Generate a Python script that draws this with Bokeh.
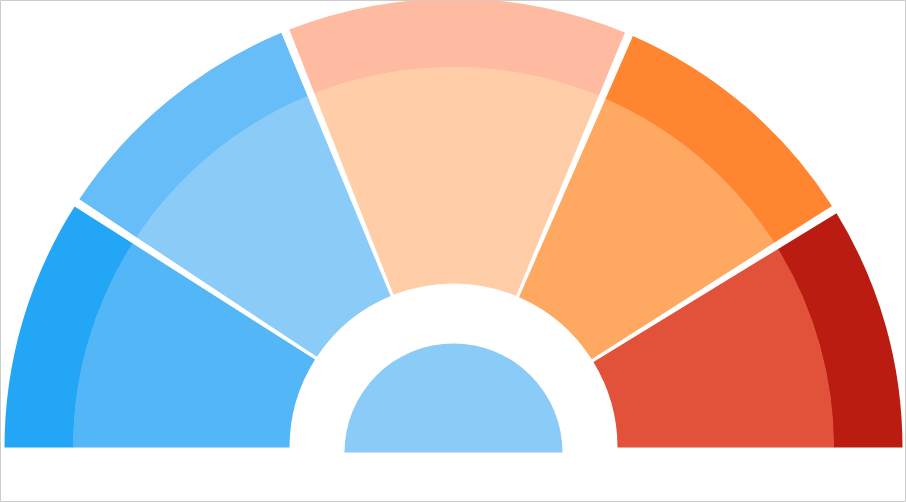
import math
from bokeh.plotting import figure
from bokeh.models import Range1d, ColumnDataSource
from bokeh.embed import file_html
from bokeh.resources import INLINE

# Data (left to right around the gauge)
categories = ["A", "B", "C", "D", "E"]
values = [33, 35, 45, 35, 32]
outer_colors = ["#22A6F5", "#66BDF7", "#FFBBA1", "#FF8531", "#BA1C12"]
inner_colors = ["#53B6F7", "#8ACBF8", "#FFCEA9", "#FFA861", "#E25139"]
center_color = "#8ACBF8"

W, H = 906, 502
p = figure(width=W, height=H, output_backend="svg", toolbar_location=None,
           x_range=Range1d(-453, 453), y_range=Range1d(-55, 447),
           min_border=0, background_fill_color="white", border_fill_color="white")
p.axis.visible = False
p.grid.visible = False
p.outline_line_color = "#cccccc"
p.outline_line_width = 1

R_OUT, R_MID, R_IN, R_DISC = 449, 380, 164, 109
pad = math.radians(0.55)

total = sum(values)
# sectors drawn clockwise from the left (angle pi) to the right (angle 0)
starts, ends = [], []
acc = 0.0
n = len(values)
for i, v in enumerate(values):
    a_hi = math.pi - acc / total * math.pi
    acc += v
    a_lo = math.pi - acc / total * math.pi
    if i > 0:
        a_hi -= pad
    if i < n - 1:
        a_lo += pad
    starts.append(a_lo)
    ends.append(a_hi)

src = ColumnDataSource(dict(cat=categories, start=starts, end=ends,
                            outer=outer_colors, inner=inner_colors))

p.annular_wedge(x=0, y=0, inner_radius=R_MID, outer_radius=R_OUT,
                start_angle="start", end_angle="end", fill_color="outer",
                line_color=None, source=src)
p.annular_wedge(x=0, y=0, inner_radius=R_IN, outer_radius=R_MID + 0.5,
                start_angle="start", end_angle="end", fill_color="inner",
                line_color=None, source=src)

p.wedge(x=0, y=-5, radius=R_DISC, start_angle=0, end_angle=math.pi,
        fill_color=center_color, line_color=None)

open("out.html", "w").write(file_html(p, INLINE))
